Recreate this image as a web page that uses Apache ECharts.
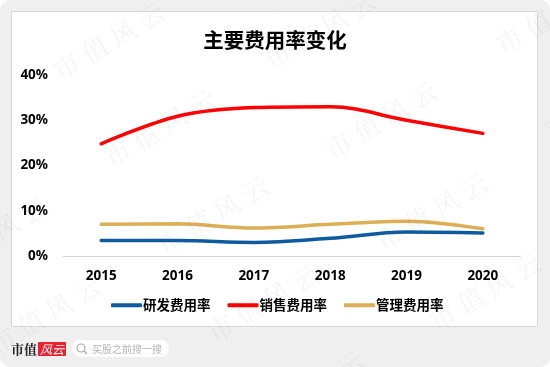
<!DOCTYPE html>
<html><head><meta charset="utf-8">
<style>html,body{margin:0;padding:0;background:#fff}#c{width:550px;height:367px}</style>
<script src="https://cdn.jsdelivr.net/npm/echarts@6/dist/echarts.min.js"></script>
</head><body><div id="c"></div>
<script>
const years = ['2015','2016','2017','2018','2019','2020'];
const rd = [3.4,3.4,3.0,3.9,5.3,5.1];
const sales = [24.8,30.9,32.8,33.0,30.0,27.1];
const admin = [7.0,7.1,6.2,7.0,7.7,6.0];
const yTicks = [0,10,20,30,40];
const watermarkCentres = [[109,41],[160,128],[320,30],[381,120],[552,15],[45,315],[263,303],[432,212],[485,292],[213,215],[-8,235],[309,389],[600,100]];
const font = '"Noto Sans CJK SC","DejaVu Sans",sans-serif';
const num = '"Noto Sans","Open Sans",sans-serif';
const chart = echarts.init(document.getElementById('c'),null,{renderer:'canvas'});
const wm = watermarkCentres.map(p=>({type:'text',x:p[0],y:p[1],rotation:0.54,z:50,silent:true,
  style:{text:'市 值 风 云',fill:'rgba(120,120,120,0.085)',font:'300 26px "Noto Serif CJK SC","Noto Sans CJK SC",serif',align:'center',verticalAlign:'middle'}}));
chart.setOption({
  animation:false,backgroundColor:'#fff',
  title:{text:'主要费用率变化',left:'center',top:25,textStyle:{fontFamily:font,fontSize:20.5,fontWeight:'bold',color:'#000'}},
  grid:{left:63,right:29,top:75,bottom:111},
  legend:{bottom:50,left:106,itemGap:17,itemWidth:31,itemHeight:4,icon:'roundRect',
    textStyle:{fontFamily:font,fontSize:13.5,fontWeight:'bold',color:'#000',padding:[0,0,0,-4]},
    data:['研发费用率','销售费用率','管理费用率']},
  xAxis:{type:'category',data:years,boundaryGap:true,
    axisLine:{lineStyle:{color:'#d4d4d4',width:1}},axisTick:{show:false},
    axisLabel:{margin:13,fontFamily:num,fontSize:13.5,fontWeight:'bold',color:'#000'}},
  yAxis:{type:'value',min:0,max:40,interval:10,splitLine:{show:false},axisLine:{show:false},axisTick:{show:false},
    axisLabel:{margin:15,fontFamily:num,fontSize:13.5,fontWeight:'bold',color:'#000',formatter:v=>yTicks.includes(v)?v+'%':''}},
  series:[
    {name:'研发费用率',type:'line',data:rd,smooth:0.35,symbol:'none',lineStyle:{color:'#0f5a9e',width:3.5,cap:'round'},itemStyle:{color:'#0f5a9e'}},
    {name:'销售费用率',type:'line',data:sales,smooth:0.35,symbol:'none',lineStyle:{color:'#ff0000',width:3.5,cap:'round'},itemStyle:{color:'#ff0000'}},
    {name:'管理费用率',type:'line',data:admin,smooth:0.35,symbol:'none',lineStyle:{color:'#dcae56',width:3.5,cap:'round'},itemStyle:{color:'#dcae56'}}
  ],
  graphic:[
    {type:'rect',z:-10,silent:true,shape:{x:0,y:0,width:550,height:367,r:10},style:{fill:'#efefef'}},
    {type:'rect',z:-9,silent:true,shape:{x:11.5,y:11.5,width:526,height:315},style:{fill:'#fff',stroke:'#d8d8d8',lineWidth:1}},
    {type:'text',z:40,x:11,y:349,style:{text:'市值',fill:'#222',font:'bold 13px "Noto Serif CJK SC","Noto Sans CJK SC",serif',verticalAlign:'middle'}},
    {type:'rect',z:40,shape:{x:38,y:342,width:28,height:14,r:1},style:{fill:'#e8232f'}},
    {type:'text',z:41,x:52,y:349,style:{text:'风云',fill:'#fff',font:'italic 12px "Noto Sans CJK SC",sans-serif',align:'center',verticalAlign:'middle'}},
    {type:'rect',z:40,shape:{x:72,y:340,width:97,height:17,r:8.5},style:{fill:'#fff'}},
    {type:'circle',z:41,shape:{cx:81,cy:348,r:4},style:{fill:'none',stroke:'#aaa',lineWidth:1.2}},
    {type:'line',z:41,shape:{x1:84,y1:351,x2:87,y2:354},style:{stroke:'#aaa',lineWidth:1.2}},
    {type:'text',z:41,x:92,y:349,style:{text:'买股之前搜一搜',fill:'#b5b5b5',font:'10px "Noto Sans CJK SC",sans-serif',verticalAlign:'middle'}},
    ...wm
  ]
});
</script></body></html>
